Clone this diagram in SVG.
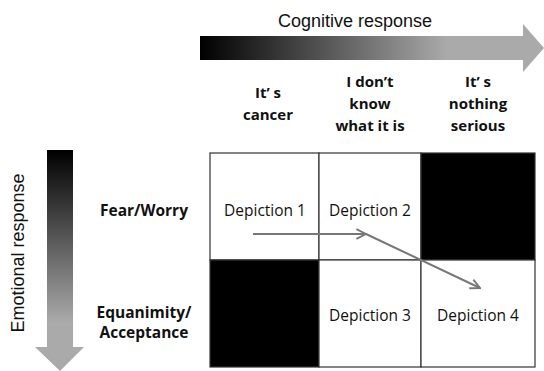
<svg xmlns="http://www.w3.org/2000/svg" width="544" height="371" viewBox="0 0 544 371">
<defs>
<linearGradient id="gh" x1="0" y1="0" x2="1" y2="0">
<stop offset="0" stop-color="#000"/>
<stop offset="0.72" stop-color="#aaa"/>
<stop offset="1" stop-color="#aaa"/>
</linearGradient>
<linearGradient id="gv" x1="0" y1="0" x2="0" y2="1">
<stop offset="0" stop-color="#000"/>
<stop offset="0.78" stop-color="#aaa"/>
<stop offset="1" stop-color="#aaa"/>
</linearGradient>
<marker id="ah" viewBox="0 0 10 10" refX="9" refY="5" markerWidth="6" markerHeight="6" orient="auto" markerUnits="strokeWidth">
<path d="M1,1 L9,5 L1,9" fill="none" stroke="#777" stroke-width="1.6"/>
</marker>
<style>
.ax{font-family:"Liberation Sans",Arial,sans-serif;fill:#111}
.lb{font-family:"Open Sans","Noto Sans",sans-serif;font-size:15.5px;fill:#111;text-anchor:middle}
.hd{font-family:"Open Sans","Noto Sans",sans-serif;font-size:15.5px;font-weight:bold;fill:#111;text-anchor:middle}
.ch{font-size:15px}
.cell{stroke:#333;stroke-width:1.2}
.w{fill:#fff}
.b{fill:#000}
.con{fill:none;stroke:#777;stroke-width:2}
</style>
</defs>
<rect width="544" height="371" fill="#fff"/>
<g id="cognitive-axis">
<path d="M200,36 H523 V24 L544,48 L523,72 V60 H200 Z" fill="url(#gh)"/>
<text class="ax" x="355" y="27" font-size="18" text-anchor="middle">Cognitive response</text>
</g>
<g id="emotional-axis">
<path d="M47,150 H73 V347 H84 L60,371 L35,347 H47 Z" fill="url(#gv)"/>
<text class="ax" transform="translate(24,253) rotate(-90)" font-size="18" text-anchor="middle">Emotional response</text>
</g>
<g id="col-headers">
<text class="hd ch" x="268" y="98">It’ s</text>
<text class="hd ch" x="268" y="120">cancer</text>
<text class="hd ch" x="370" y="87">I don’t</text>
<text class="hd ch" x="370" y="109">know</text>
<text class="hd ch" x="370" y="131">what it is</text>
<text class="hd ch" x="478" y="87">It’ s</text>
<text class="hd ch" x="478" y="109">nothing</text>
<text class="hd ch" x="478" y="131">serious</text>
</g>
<g id="row-headers">
<text class="hd" x="144" y="216">Fear/Worry</text>
<text class="hd" x="144" y="318">Equanimity/</text>
<text class="hd" x="144" y="338">Acceptance</text>
</g>
<g id="depiction-1"><rect class="cell w" x="210" y="153" width="109" height="107"/><text class="lb" x="265" y="216">Depiction 1</text></g>
<g id="depiction-2"><rect class="cell w" x="319" y="153" width="102" height="107"/><text class="lb" x="370" y="216">Depiction 2</text></g>
<g id="cell-r1c3"><rect class="cell b" x="421" y="153" width="114" height="107"/></g>
<g id="cell-r2c1"><rect class="cell b" x="210" y="260" width="109" height="107"/></g>
<g id="depiction-3"><rect class="cell w" x="319" y="260" width="102" height="107"/><text class="lb" x="370" y="321">Depiction 3</text></g>
<g id="depiction-4"><rect class="cell w" x="421" y="260" width="114" height="107"/><text class="lb" x="478" y="321">Depiction 4</text></g>
<g id="connectors">
<line class="con" x1="253" y1="234" x2="366" y2="234" marker-end="url(#ah)"/>
<line class="con" x1="366" y1="234" x2="480" y2="288" marker-end="url(#ah)"/>
</g>
</svg>
